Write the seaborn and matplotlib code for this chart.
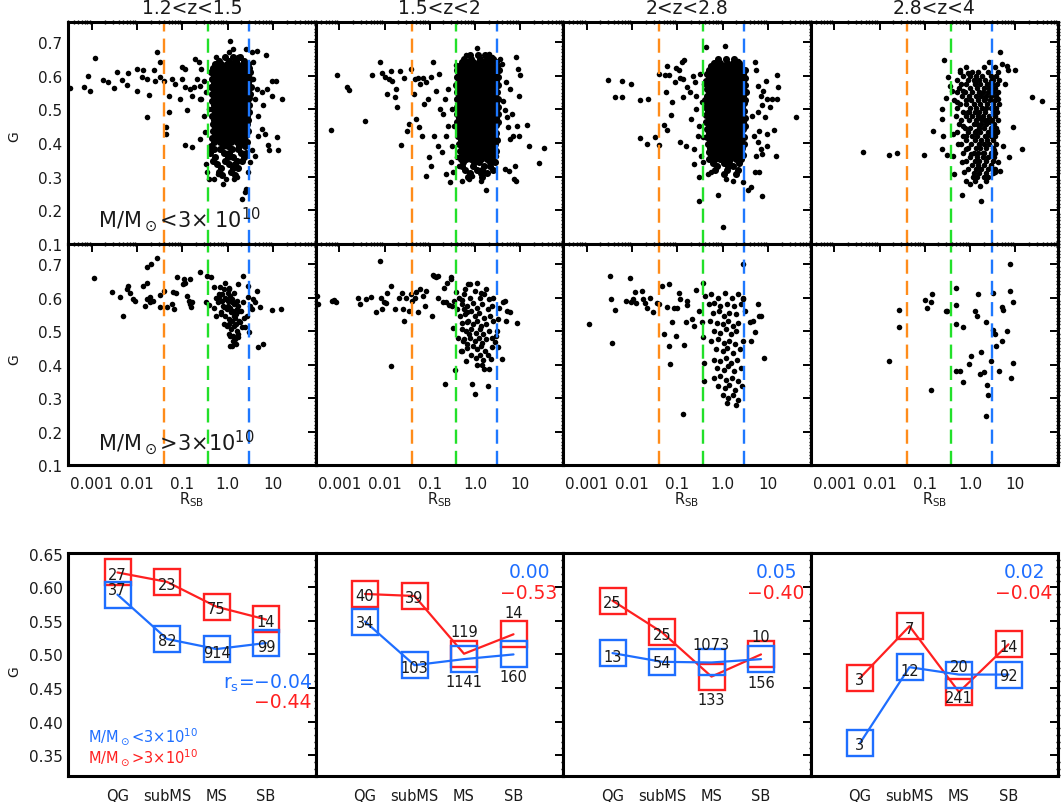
import numpy as np
import pandas as pd
import matplotlib
matplotlib.use("Agg")
import matplotlib.pyplot as plt
import seaborn as sns
from matplotlib.ticker import (FixedLocator, FuncFormatter, MultipleLocator,
                               LogLocator, NullFormatter, FormatStrFormatter)

# ---------------------------------------------------------------- data
zbins = ["1.2<z<1.5", "1.5<z<2", "2<z<2.8", "2.8<z<4"]
thresholds = [0.04, 0.37, 3.0]          # R_SB boundaries QG|subMS|MS|SB
xtick_vals = [1e-3, 1e-2, 1e-1, 1.0, 10.0]
xtick_labels = ["0.001", "0.01", "0.1", "1.0", "10"]
cats = ["QG", "subMS", "MS", "SB"]

# scatter points (log10 R_SB, G) -- low mass (M < 3e10) top row
lo_z1 = [(-3.47,0.563),(-2.92,0.652),(-3.09,0.599),(-3.16,0.566),(-3.03,0.556),(-2.74,0.589),(-2.63,0.581),
         (-2.50,0.563),(-2.44,0.611),(-2.33,0.588),(-2.22,0.573),(-2.19,0.607),(-2.00,0.619),(-1.99,0.556),
         (-1.89,0.596),(-1.86,0.616),(-1.78,0.591),(-1.73,0.543),(-1.78,0.477),(-1.63,0.616),(-1.60,0.586),
         (-1.56,0.670),(-1.50,0.596),(-1.49,0.640),(-1.41,0.586),(-1.36,0.447),(-1.35,0.427),(-1.30,0.539),
         (-1.30,0.492),(-1.23,0.591),(-1.16,0.576),(-1.05,0.531),(-1.01,0.626),(-1.01,0.591),(-0.94,0.621),
         (-0.94,0.566),(-0.90,0.497),(-0.83,0.561),(-0.79,0.541),(-0.94,0.393),(-0.79,0.388),(-0.75,0.566),
         (-0.72,0.650),(-0.68,0.591),(-0.64,0.640),(-0.61,0.412),(-0.62,0.531),(-0.61,0.571),(-0.58,0.531),
         (-0.58,0.621),(-0.53,0.586),(-0.53,0.482),(-0.50,0.432),(-0.48,0.551),(-0.47,0.338),(-0.45,0.313),
         (-0.40,0.502),(-0.40,0.293),(-0.36,0.378),(-0.32,0.601),(-0.29,0.293),(-0.25,0.655),(-0.22,0.308),
         (-0.11,0.278),(-0.04,0.293),(0.06,0.705),(0.11,0.680),(0.04,0.670),(0.15,0.293),(0.20,0.298),
         (0.24,0.655),(0.31,0.234),(0.38,0.256),(0.40,0.680),(0.40,0.264),(0.54,0.670),(0.65,0.675),
         (0.57,0.640),(0.54,0.378),(0.57,0.591),(0.61,0.531),(0.65,0.561),(0.68,0.482),(0.76,0.551),
         (0.79,0.512),(0.83,0.427),(0.85,0.662),(0.87,0.561),(0.90,0.393),(0.92,0.378),(0.98,0.586),
         (0.99,0.541),(1.07,0.586),(1.09,0.417),(1.11,0.378),(1.20,0.531),(0.76,0.442),(0.68,0.422),
         (0.61,0.363),(0.50,0.343),(0.46,0.313)]
lo_z1_core = [
    (0.655, [-0.05, 0.12, 0.28]),
    (0.645, [-0.18, 0.02, 0.19, 0.36]),
    (0.634, [-0.28, -0.14, -0.01, 0.09, 0.21, 0.33, 0.44]),
    (0.623, [-0.33, -0.21, -0.09, 0.03, 0.14, 0.25, 0.37, 0.47]),
    (0.612, [-0.36, -0.26, -0.15, -0.04, 0.07, 0.19, 0.30, 0.41, 0.50]),
    (0.601, [-0.31, -0.20, -0.10, 0.01, 0.12, 0.23, 0.34, 0.45]),
    (0.590, [-0.35, -0.24, -0.13, -0.03, 0.08, 0.18, 0.29, 0.40, 0.49]),
    (0.579, [-0.30, -0.19, -0.08, 0.03, 0.14, 0.25, 0.35, 0.46]),
    (0.568, [-0.36, -0.25, -0.14, -0.04, 0.07, 0.20, 0.31, 0.42, 0.51]),
    (0.557, [-0.31, -0.20, -0.10, 0.02, 0.13, 0.24, 0.36, 0.46]),
    (0.546, [-0.34, -0.23, -0.12, -0.01, 0.09, 0.19, 0.30, 0.41, 0.50]),
    (0.535, [-0.29, -0.18, -0.07, 0.04, 0.15, 0.26, 0.37, 0.47]),
    (0.524, [-0.35, -0.24, -0.13, -0.02, 0.08, 0.21, 0.32, 0.43]),
    (0.513, [-0.30, -0.19, -0.09, 0.03, 0.14, 0.25, 0.36, 0.48]),
    (0.502, [-0.33, -0.22, -0.11, 0.00, 0.10, 0.20, 0.31, 0.42]),
    (0.491, [-0.28, -0.17, -0.06, 0.05, 0.16, 0.27, 0.38, 0.47]),
    (0.480, [-0.34, -0.23, -0.12, -0.01, 0.09, 0.21, 0.33, 0.43]),
    (0.469, [-0.30, -0.18, -0.07, 0.04, 0.15, 0.26, 0.37, 0.46]),
    (0.458, [-0.33, -0.22, -0.11, 0.00, 0.11, 0.22, 0.32, 0.42]),
    (0.447, [-0.28, -0.16, -0.05, 0.06, 0.17, 0.28, 0.39]),
    (0.436, [-0.32, -0.21, -0.10, 0.01, 0.12, 0.23, 0.34, 0.45]),
    (0.425, [-0.27, -0.15, -0.04, 0.07, 0.18, 0.30, 0.40]),
    (0.414, [-0.34, -0.22, -0.10, 0.02, 0.13, 0.24, 0.36]),
    (0.403, [-0.29, -0.17, -0.05, 0.08, 0.20, 0.31, 0.43]),
    (0.392, [-0.36, -0.11, 0.01, 0.26, 0.38]),
    (0.381, [-0.30, -0.16, 0.09, 0.22]),
    (0.370, [-0.38, -0.09, 0.04, 0.29, 0.41]),
    (0.359, [-0.27, 0.00, 0.12, 0.36]),
    (0.348, [-0.33, -0.05, 0.20, 0.32]),
    (0.337, [-0.24, 0.03, 0.16]),
    (0.326, [-0.15, 0.12, 0.24]),
    (0.315, [-0.20, 0.07]),
    (0.304, [-0.12, 0.17]),
]

lo_z2 = [(-3.19,0.440),(-3.05,0.601),(-2.83,0.566),(-2.78,0.559),(-2.43,0.467),(-2.27,0.603),(-2.10,0.640),
         (-2.05,0.609),(-1.99,0.596),(-1.94,0.546),(-1.91,0.591),(-1.86,0.613),(-1.83,0.586),(-1.77,0.536),
         (-1.75,0.561),(-1.72,0.507),(-1.66,0.613),(-1.64,0.394),(-1.58,0.593),(-1.50,0.437),(-1.47,0.457),
         (-1.42,0.619),(-1.35,0.546),(-1.33,0.591),(-1.31,0.473),(-1.27,0.593),(-1.24,0.447),(-1.22,0.576),
         (-1.18,0.422),(-1.15,0.593),(-1.13,0.516),(-1.09,0.303),(-1.08,0.581),(-1.05,0.531),(-1.02,0.358),
         (-0.98,0.333),(-0.97,0.596),(-0.93,0.642),(-0.91,0.422),(-0.87,0.556),(-0.83,0.392),(-0.80,0.606),
         (-0.78,0.502),(-0.74,0.373),(-0.71,0.487),(-0.67,0.531),(-0.65,0.308),(-0.64,0.422),(-0.60,0.561),
         (-0.59,0.452),(-0.56,0.283),(-0.54,0.343),(-0.52,0.502),(-0.50,0.392),(-0.48,0.313),(-0.47,0.452),
         (-0.43,0.631),(-0.41,0.358),(-0.37,0.531),(-0.36,0.333),(-0.32,0.417),(-0.28,0.288),(-0.21,0.662),
         (-0.14,0.293),(-0.06,0.303),(0.05,0.682),(0.12,0.288),(0.25,0.260),(0.31,0.665),(0.38,0.655),
         (0.45,0.363),(0.56,0.650),(0.60,0.635),(0.61,0.526),(0.66,0.323),(0.67,0.497),(0.69,0.581),
         (0.71,0.477),(0.73,0.447),(0.75,0.318),(0.76,0.561),(0.78,0.412),(0.82,0.487),(0.84,0.422),
         (0.86,0.293),(0.91,0.655),(0.93,0.452),(0.95,0.621),(0.97,0.541),(0.88,0.333),(0.91,0.288),
         (0.97,0.422),(1.00,0.601),(1.15,0.454),(1.19,0.392),(1.42,0.341),(1.52,0.386)]
lo_z2_core = [
    (0.662, [-0.12, 0.06, 0.22]),
    (0.651, [-0.25, -0.08, 0.10, 0.27, 0.40]),
    (0.640, [-0.30, -0.17, -0.04, 0.08, 0.20, 0.32, 0.45]),
    (0.629, [-0.36, -0.24, -0.12, 0.00, 0.12, 0.24, 0.36, 0.48]),
    (0.618, [-0.40, -0.29, -0.18, -0.06, 0.05, 0.17, 0.29, 0.41, 0.52]),
    (0.607, [-0.35, -0.23, -0.12, 0.00, 0.11, 0.23, 0.35, 0.46]),
    (0.596, [-0.41, -0.30, -0.18, -0.07, 0.05, 0.16, 0.28, 0.40, 0.51]),
    (0.585, [-0.36, -0.24, -0.13, -0.01, 0.10, 0.22, 0.34, 0.45]),
    (0.574, [-0.42, -0.30, -0.19, -0.07, 0.04, 0.16, 0.28, 0.39, 0.50]),
    (0.563, [-0.37, -0.25, -0.13, -0.02, 0.10, 0.21, 0.33, 0.44]),
    (0.552, [-0.41, -0.30, -0.19, -0.08, 0.04, 0.15, 0.27, 0.38, 0.49]),
    (0.541, [-0.36, -0.24, -0.13, -0.01, 0.10, 0.21, 0.32, 0.44]),
    (0.530, [-0.40, -0.29, -0.18, -0.07, 0.05, 0.16, 0.27, 0.39, 0.50]),
    (0.519, [-0.35, -0.23, -0.12, 0.00, 0.11, 0.22, 0.34, 0.45]),
    (0.508, [-0.41, -0.29, -0.18, -0.06, 0.05, 0.17, 0.28, 0.40, 0.51]),
    (0.497, [-0.36, -0.24, -0.12, -0.01, 0.11, 0.22, 0.34, 0.46]),
    (0.486, [-0.40, -0.29, -0.17, -0.06, 0.06, 0.17, 0.29, 0.40, 0.50]),
    (0.475, [-0.35, -0.23, -0.12, 0.00, 0.12, 0.23, 0.35, 0.45]),
    (0.464, [-0.39, -0.28, -0.17, -0.05, 0.06, 0.18, 0.29, 0.41, 0.51]),
    (0.453, [-0.34, -0.22, -0.11, 0.01, 0.12, 0.24, 0.35, 0.46]),
    (0.442, [-0.38, -0.27, -0.16, -0.04, 0.07, 0.19, 0.30, 0.42]),
    (0.431, [-0.33, -0.21, -0.10, 0.02, 0.13, 0.25, 0.36, 0.47]),
    (0.420, [-0.37, -0.26, -0.15, -0.03, 0.08, 0.20, 0.31, 0.43]),
    (0.409, [-0.32, -0.20, -0.09, 0.03, 0.14, 0.26, 0.37, 0.48]),
    (0.398, [-0.36, -0.25, -0.14, -0.02, 0.09, 0.21, 0.32, 0.44]),
    (0.387, [-0.30, -0.19, -0.07, 0.04, 0.16, 0.27, 0.39]),
    (0.376, [-0.34, -0.23, -0.11, 0.00, 0.11, 0.23, 0.35, 0.46]),
    (0.365, [-0.28, -0.16, -0.05, 0.07, 0.18, 0.30, 0.41]),
    (0.354, [-0.32, -0.20, -0.09, 0.03, 0.14, 0.26, 0.38]),
    (0.343, [-0.26, -0.02, 0.09, 0.33, 0.44]),
    (0.332, [-0.30, -0.05, 0.20, 0.32]),
    (0.321, [-0.22, 0.04, 0.16, 0.40]),
    (0.310, [-0.12, 0.14, 0.27]),
    (0.299, [-0.15, 0.16]),
]

lo_z3 = [(-2.52,0.589),(-2.21,0.585),(-2.03,0.576),(-2.38,0.538),(-2.21,0.538),(-1.83,0.527),(-1.64,0.531),
         (-1.82,0.416),(-1.67,0.397),(-1.49,0.417),(-1.40,0.394),(-1.41,0.606),(-1.30,0.454),(-1.23,0.629),
         (-1.27,0.601),(-1.22,0.440),(-1.19,0.601),(-1.25,0.553),(-1.13,0.485),(-1.11,0.523),(-1.05,0.581),
         (-1.02,0.624),(-0.97,0.616),(-0.94,0.593),(-0.90,0.640),(-0.85,0.648),(-0.87,0.591),(-0.94,0.402),
         (-0.87,0.536),(-0.80,0.392),(-0.78,0.566),(-0.70,0.472),(-0.72,0.551),(-0.66,0.599),(-0.63,0.338),
         (-0.61,0.581),(-0.59,0.541),(-0.63,0.382),(-0.58,0.502),(-0.55,0.422),(-0.53,0.298),(-0.52,0.229),
         (-0.53,0.452),(-0.50,0.606),(-0.48,0.363),(-0.46,0.523),(-0.43,0.417),(-0.37,0.687),(-0.41,0.576),
         (-0.44,0.343),(-0.33,0.308),(-0.26,0.313),(-0.11,0.246),(0.01,0.152),(0.06,0.688),(0.07,0.293),
         (0.22,0.288),(0.35,0.645),(0.44,0.283),(0.55,0.262),(0.62,0.268),(0.72,0.642),(0.73,0.616),
         (0.86,0.244),(0.95,0.586),(0.99,0.531),(1.10,0.531),(1.19,0.531),(1.21,0.601),(1.23,0.566),
         (0.79,0.571),(0.84,0.541),(0.88,0.512),(0.89,0.556),(0.94,0.477),(1.04,0.507),(0.81,0.437),
         (0.79,0.402),(0.84,0.382),(0.88,0.368),(0.99,0.427),(1.14,0.440),(1.17,0.363),(0.72,0.313),
         (0.81,0.315),(0.73,0.363),(0.64,0.482),(0.70,0.422),(1.61,0.477),(0.77,0.492),(0.99,0.392)]
lo_z3_core = [
    (0.650, [-0.10, 0.08, 0.25]),
    (0.639, [-0.20, -0.05, 0.10, 0.23, 0.36]),
    (0.628, [-0.26, -0.13, 0.00, 0.12, 0.25, 0.38]),
    (0.617, [-0.31, -0.19, -0.07, 0.05, 0.17, 0.29, 0.41, 0.50]),
    (0.606, [-0.35, -0.24, -0.12, -0.01, 0.11, 0.23, 0.35, 0.46]),
    (0.595, [-0.30, -0.18, -0.07, 0.05, 0.16, 0.28, 0.40, 0.50]),
    (0.584, [-0.36, -0.24, -0.12, -0.01, 0.11, 0.22, 0.34, 0.45]),
    (0.573, [-0.30, -0.19, -0.07, 0.04, 0.16, 0.28, 0.39, 0.50]),
    (0.562, [-0.35, -0.24, -0.12, -0.01, 0.10, 0.22, 0.33, 0.45]),
    (0.551, [-0.29, -0.18, -0.06, 0.05, 0.17, 0.28, 0.40, 0.51]),
    (0.540, [-0.34, -0.23, -0.11, 0.00, 0.11, 0.23, 0.34, 0.46]),
    (0.529, [-0.39, -0.28, -0.17, -0.05, 0.06, 0.18, 0.29, 0.41, 0.50]),
    (0.518, [-0.33, -0.22, -0.10, 0.01, 0.13, 0.24, 0.36, 0.47]),
    (0.507, [-0.38, -0.27, -0.15, -0.04, 0.07, 0.19, 0.30, 0.42]),
    (0.496, [-0.32, -0.21, -0.09, 0.02, 0.14, 0.25, 0.37, 0.48]),
    (0.485, [-0.37, -0.26, -0.14, -0.03, 0.09, 0.20, 0.32, 0.43]),
    (0.474, [-0.31, -0.20, -0.08, 0.03, 0.15, 0.26, 0.38, 0.49]),
    (0.463, [-0.36, -0.25, -0.13, -0.02, 0.10, 0.21, 0.33, 0.44]),
    (0.452, [-0.30, -0.19, -0.07, 0.04, 0.16, 0.27, 0.39, 0.50]),
    (0.441, [-0.35, -0.24, -0.12, -0.01, 0.11, 0.22, 0.34, 0.45]),
    (0.430, [-0.29, -0.17, -0.06, 0.06, 0.17, 0.29, 0.40]),
    (0.419, [-0.34, -0.22, -0.11, 0.01, 0.12, 0.24, 0.35, 0.47]),
    (0.408, [-0.28, -0.16, -0.05, 0.07, 0.18, 0.30, 0.41]),
    (0.397, [-0.33, -0.21, -0.10, 0.02, 0.13, 0.25, 0.36, 0.48]),
    (0.386, [-0.27, -0.15, -0.04, 0.08, 0.19, 0.31, 0.42]),
    (0.375, [-0.31, -0.20, -0.08, 0.03, 0.15, 0.26, 0.38]),
    (0.364, [-0.25, -0.13, -0.02, 0.10, 0.21, 0.33, 0.45]),
    (0.353, [-0.29, -0.17, -0.06, 0.06, 0.17, 0.29, 0.40]),
    (0.342, [-0.22, 0.02, 0.13, 0.37]),
    (0.331, [-0.13, 0.12, 0.24]),
    (0.320, [-0.17, 0.09, 0.33]),
    (0.309, [0.03, 0.30]),
]

lo_z4 = [(-2.36,0.373),(-1.80,0.366),(-1.61,0.371),(-1.01,0.366),(-0.81,0.437),(-0.61,0.500),(-0.63,0.472),
         (-0.58,0.647),(-0.59,0.420),(-0.61,0.381),(-0.54,0.534),(-0.52,0.365),(-0.48,0.596),(-0.44,0.571),
         (-0.41,0.556),(-0.37,0.427),(-0.37,0.363),(-0.35,0.308),(-0.30,0.521),(-0.26,0.397),(-0.22,0.616),
         (-0.19,0.343),(-0.19,0.246),(-0.16,0.452),(-0.15,0.556),(-0.13,0.313),(-0.10,0.421),(-0.08,0.288),
         (-0.08,0.383),(-0.04,0.609),(-0.02,0.492),(0.00,0.278),(0.03,0.368),(0.07,0.298),(0.11,0.581),
         (0.14,0.437),(0.18,0.328),(0.24,0.229),(0.22,0.273),(0.25,0.472),(0.29,0.371),(0.33,0.531),
         (0.36,0.421),(0.39,0.298),(0.42,0.642),(0.44,0.462),(0.46,0.586),(0.47,0.333),(0.53,0.378),
         (0.55,0.313),(0.59,0.437),(0.61,0.343),(0.62,0.531),(0.66,0.672),(0.66,0.318),(0.71,0.635),
         (0.73,0.392),(0.77,0.576),(0.81,0.630),(0.83,0.616),(0.86,0.358),(0.95,0.447),(0.99,0.618),
         (1.14,0.383),(1.37,0.536),(1.58,0.526)]
lo_z4_cluster = [
    (0.625, [-0.10, 0.30, 0.55]),
    (0.612, [-0.22, 0.05, 0.18, 0.40, 0.62]),
    (0.600, [-0.15, 0.00, 0.12, 0.27, 0.45, 0.58]),
    (0.588, [-0.28, -0.05, 0.08, 0.20, 0.33, 0.50, 0.63]),
    (0.576, [-0.20, -0.08, 0.10, 0.22, 0.37, 0.48, 0.60]),
    (0.564, [-0.25, 0.00, 0.15, 0.30, 0.42, 0.55]),
    (0.552, [-0.30, -0.12, 0.05, 0.20, 0.28, 0.40, 0.50, 0.62]),
    (0.540, [-0.18, -0.02, 0.12, 0.25, 0.35, 0.47, 0.58]),
    (0.528, [-0.35, -0.08, 0.02, 0.18, 0.30, 0.43, 0.55]),
    (0.516, [-0.22, -0.10, 0.08, 0.22, 0.38, 0.50, 0.64]),
    (0.504, [-0.28, 0.00, 0.14, 0.27, 0.36, 0.45, 0.57]),
    (0.492, [-0.15, -0.05, 0.10, 0.20, 0.33, 0.50, 0.60]),
    (0.480, [-0.32, -0.10, 0.05, 0.18, 0.28, 0.42, 0.55]),
    (0.468, [-0.20, -0.02, 0.12, 0.30, 0.38, 0.48, 0.62]),
    (0.456, [-0.25, 0.08, 0.16, 0.25, 0.35, 0.52]),
    (0.444, [-0.12, 0.00, 0.20, 0.30, 0.45, 0.58]),
    (0.432, [-0.28, -0.05, 0.10, 0.22, 0.40, 0.50, 0.60]),
    (0.420, [-0.15, 0.05, 0.15, 0.32, 0.45, 0.55]),
    (0.408, [-0.08, 0.10, 0.25, 0.38, 0.50]),
    (0.396, [-0.20, 0.02, 0.20, 0.30, 0.42, 0.58]),
    (0.384, [-0.05, 0.12, 0.22, 0.35, 0.50]),
    (0.372, [-0.15, 0.08, 0.18, 0.30, 0.45, 0.55]),
    (0.360, [0.00, 0.15, 0.28, 0.40, 0.52]),
    (0.348, [-0.10, 0.10, 0.20, 0.35, 0.50]),
    (0.336, [0.05, 0.18, 0.30, 0.45]),
    (0.324, [-0.05, 0.12, 0.25, 0.40, 0.55]),
    (0.312, [0.08, 0.20, 0.35, 0.50]),
    (0.300, [0.15, 0.30]),
    (0.288, [0.10, 0.35]),
]

# high mass (M > 3e10) second row
hi_z1 = [(-2.96,0.657),(-2.55,0.617),(-2.37,0.603),(-2.31,0.546),(-2.22,0.627),(-2.19,0.635),(-2.15,0.615),
         (-2.08,0.596),(-2.04,0.591),(-1.87,0.635),(-1.82,0.575),(-1.78,0.596),(-1.77,0.643),(-1.72,0.586),
         (-1.71,0.601),(-1.65,0.591),(-1.78,0.691),(-1.69,0.700),(-1.56,0.718),(-1.50,0.572),(-1.49,0.607),
         (-1.41,0.620),(-1.33,0.572),(-1.23,0.581),(-1.21,0.617),(-1.19,0.567),(-1.14,0.613),(-1.12,0.660),
         (-0.99,0.640),(-0.97,0.655),(-0.94,0.645),(-0.90,0.606),(-0.86,0.591),(-0.84,0.581),(-0.83,0.655),
         (-0.81,0.572),(-0.79,0.586),(-0.62,0.675),(-0.47,0.586),(-0.46,0.665),(-0.42,0.577),(-0.37,0.660),
         (-0.31,0.631),(-0.25,0.546),(-0.22,0.588),(-0.20,0.601),(-0.16,0.631),(-0.15,0.556),(-0.13,0.611),
         (-0.09,0.521),(-0.08,0.571),(-0.05,0.643),(-0.03,0.596),(-0.02,0.516),(0.00,0.576),(0.02,0.625),
         (0.04,0.491),(0.06,0.456),(0.07,0.556),(0.09,0.586),(0.11,0.486),(0.13,0.546),(0.15,0.615),
         (0.17,0.476),(0.19,0.521),(0.20,0.566),(0.22,0.481),(0.24,0.640),(0.26,0.561),(0.28,0.526),
         (0.31,0.511),(0.34,0.665),(0.35,0.586),(0.39,0.511),(0.42,0.546),(0.44,0.601),(0.46,0.635),
         (0.48,0.498),(0.50,0.576),(0.53,0.567),(0.57,0.596),(0.61,0.586),(0.64,0.620),(0.68,0.451),
         (0.72,0.571),(0.79,0.461),(0.99,0.564),(1.17,0.566),
         (-0.18,0.610),(-0.12,0.590),(-0.06,0.600),(0.00,0.590),(0.05,0.605),(0.10,0.595),(0.14,0.580),
         (0.20,0.590),(-0.10,0.575),(-0.02,0.565),(0.06,0.570),(0.12,0.560),(0.18,0.550),(0.24,0.575),
         (-0.15,0.550),(-0.05,0.545),(0.03,0.535),(0.09,0.530),(0.16,0.540),(0.02,0.520),(0.08,0.505),
         (0.14,0.515),(0.20,0.500),(0.05,0.485),(0.12,0.470),(0.18,0.460),(0.22,0.490),(0.10,0.455),
         (-0.08,0.625),(0.04,0.630),(0.00,0.615),(0.30,0.560),(0.36,0.540),(0.26,0.530),(-0.25,0.600),
         (-0.30,0.570)]

hi_z2 = [(-3.48,0.605),(-3.46,0.581),(-3.16,0.591),(-3.11,0.594),(-3.06,0.586),(-2.58,0.600),(-2.53,0.581),
         (-2.41,0.596),(-2.30,0.603),(-2.18,0.556),(-2.10,0.709),(-2.08,0.600),(-2.06,0.566),(-2.01,0.588),
         (-1.96,0.584),(-1.94,0.615),(-1.86,0.635),(-1.86,0.397),(-1.77,0.566),(-1.68,0.600),(-1.62,0.613),
         (-1.59,0.566),(-1.57,0.531),(-1.53,0.600),(-1.47,0.561),(-1.42,0.610),(-1.39,0.591),(-1.33,0.600),
         (-1.30,0.617),(-1.25,0.556),(-1.22,0.625),(-1.15,0.605),(-1.11,0.576),(-1.09,0.620),(-0.96,0.544),
         (-0.93,0.667),(-0.91,0.664),(-0.87,0.660),(-0.83,0.663),(-0.83,0.600),(-0.71,0.588),(-0.69,0.630),
         (-0.66,0.342),(-0.65,0.586),(-0.61,0.645),(-0.58,0.578),(-0.54,0.655),(-0.54,0.661),(-0.52,0.574),
         (-0.49,0.508),(-0.47,0.591),(-0.44,0.384),(-0.43,0.617),(-0.39,0.566),(-0.37,0.478),(-0.34,0.546),
         (-0.32,0.441),(-0.30,0.594),(-0.28,0.506),(-0.27,0.471),(-0.25,0.566),(-0.22,0.625),(-0.21,0.411),
         (-0.19,0.526),(-0.17,0.556),(-0.17,0.461),(-0.15,0.640),(-0.14,0.491),(-0.06,0.343),(0.00,0.313),
         (0.16,0.398),(0.20,0.387),(0.31,0.387),(0.29,0.335),(0.60,0.418),(0.51,0.451),(0.61,0.588),
         (0.66,0.591),(0.71,0.561),(0.76,0.558),(0.69,0.531),(0.93,0.524),(0.53,0.568),(0.51,0.536),
         (0.49,0.501),(0.47,0.486),(0.44,0.466),(0.38,0.451),(0.34,0.416),(0.23,0.625),(0.05,0.645),
         (-0.12,0.640),(0.14,0.615),
         (-0.35,0.600),(-0.25,0.610),(-0.12,0.600),(0.00,0.620),(0.10,0.600),(0.20,0.610),(0.30,0.595),
         (0.40,0.600),(-0.30,0.580),(-0.18,0.575),(-0.05,0.585),(0.05,0.570),(0.15,0.580),(0.28,0.565),
         (0.38,0.575),(-0.22,0.550),(-0.10,0.560),(0.00,0.545),(0.08,0.555),(0.20,0.540),(0.33,0.545),
         (-0.28,0.525),(-0.15,0.530),(-0.05,0.520),(0.05,0.530),(0.12,0.515),(0.25,0.520),(0.40,0.530),
         (-0.20,0.500),(-0.08,0.505),(0.02,0.495),(0.10,0.505),(0.18,0.490),(0.30,0.500),(-0.25,0.475),
         (-0.12,0.480),(0.00,0.470),(0.08,0.480),(0.15,0.465),(0.25,0.475),(0.38,0.480),(-0.18,0.450),
         (-0.05,0.455),(0.05,0.445),(0.12,0.455),(0.22,0.440),(-0.10,0.430),(0.02,0.420),(0.10,0.430),
         (0.18,0.415),(0.28,0.430),(-0.30,0.440),(0.05,0.400)]

hi_z3 = [(-2.94,0.521),(-2.49,0.665),(-2.47,0.595),(-2.45,0.464),(-2.37,0.564),(-2.14,0.590),(-2.04,0.657),
         (-2.03,0.588),(-1.97,0.595),(-1.93,0.618),(-1.91,0.585),(-1.78,0.620),(-1.75,0.595),(-1.71,0.585),
         (-1.68,0.568),(-1.61,0.600),(-1.53,0.556),(-1.44,0.585),(-1.41,0.581),(-1.34,0.635),(-1.29,0.491),
         (-1.22,0.571),(-1.19,0.454),(-1.18,0.640),(-1.16,0.401),(-1.12,0.526),(-1.07,0.568),(-1.02,0.486),
         (-1.00,0.568),(-0.97,0.613),(-0.94,0.597),(-0.87,0.252),(-0.86,0.458),(-0.81,0.528),(-0.78,0.590),
         (-0.78,0.578),(-0.68,0.536),(-0.63,0.514),(-0.59,0.623),(-0.53,0.561),(-0.46,0.526),(-0.44,0.481),
         (-0.43,0.645),(-0.39,0.605),(-0.41,0.404),(-0.41,0.352),(0.44,0.700),(0.60,0.526),(0.66,0.531),
         (0.77,0.581),(0.81,0.544),(0.84,0.546),(0.72,0.496),(0.62,0.471),(0.92,0.419),(0.44,0.595),
         (-0.25,0.610),(-0.10,0.600),(0.05,0.615),(0.20,0.600),(0.35,0.610),(0.45,0.600),(-0.30,0.580),
         (-0.18,0.585),(-0.05,0.575),(0.10,0.580),(0.25,0.575),(0.40,0.580),(-0.22,0.555),(-0.08,0.560),
         (0.02,0.545),(0.15,0.555),(0.30,0.550),(0.50,0.560),(-0.28,0.530),(-0.12,0.525),(0.00,0.520),
         (0.12,0.530),(0.22,0.515),(0.35,0.525),(-0.20,0.500),(-0.05,0.495),(0.08,0.505),(0.18,0.490),
         (0.30,0.500),(-0.25,0.470),(-0.10,0.475),(0.02,0.465),(0.15,0.470),(0.28,0.460),(0.45,0.470),
         (-0.15,0.445),(0.00,0.440),(0.10,0.450),(0.22,0.435),(0.38,0.445),(-0.20,0.415),(-0.05,0.410),
         (0.08,0.420),(0.18,0.405),(0.32,0.415),(-0.12,0.390),(0.02,0.385),(0.12,0.395),(0.25,0.380),
         (0.40,0.390),(-0.18,0.360),(-0.05,0.365),(0.08,0.355),(0.20,0.360),(0.35,0.350),(-0.10,0.335),
         (0.05,0.330),(0.15,0.340),(0.28,0.325),(0.42,0.335),(0.00,0.310),(0.12,0.300),(0.22,0.310),
         (0.35,0.295),(0.10,0.285),(0.30,0.280)]

hi_z4 = [(-1.79,0.411),(-1.58,0.564),(-1.58,0.513),(-1.00,0.593),(-0.96,0.569),(-0.86,0.586),(-0.85,0.611),
         (-0.86,0.324),(-0.53,0.561),(-0.50,0.560),(-0.32,0.521),(-0.32,0.628),(-0.32,0.578),(-0.32,0.380),
         (-0.22,0.380),(-0.16,0.347),(-0.15,0.511),(-0.03,0.402),(0.02,0.425),(0.11,0.561),(0.16,0.546),
         (0.18,0.611),(0.22,0.372),(0.25,0.438),(0.31,0.377),(0.36,0.528),(0.38,0.339),(0.39,0.308),
         (0.35,0.245),(0.46,0.412),(0.50,0.504),(0.51,0.613),(0.55,0.491),(0.57,0.456),(0.64,0.380),
         (0.70,0.571),(0.72,0.564),(0.70,0.471),(0.82,0.501),(0.88,0.620),(0.90,0.359),(0.94,0.588),
         (0.95,0.406),(0.88,0.700)]

# bottom row: median G per class, numbers of galaxies, Spearman r_s
G_low = [[0.589, 0.523, 0.508, 0.517],
         [0.549, 0.484, 0.493, 0.500],
         [0.502, 0.489, 0.488, 0.493],
         [0.368, 0.481, 0.470, 0.470]]
G_high = [[0.622, 0.608, 0.571, 0.552],
          [0.590, 0.587, 0.501, 0.530],
          [0.580, 0.533, 0.467, 0.500],
          [0.465, 0.542, 0.444, 0.515]]
N_low = [[37, 82, 914, 99], [34, 103, 1141, 160], [13, 54, 1073, 156], [3, 12, 20, 92]]
N_high = [[27, 23, 75, 14], [40, 39, 119, 14], [25, 25, 133, 10], [3, 7, 241, 14]]
rs_low = [-0.04, 0.00, 0.05, 0.02]
rs_high = [-0.44, -0.53, -0.40, -0.04]

# label vertical offsets (pixels) of the numbers relative to the boxes
dy_low = [[5, -2, -3, -3], [-1, -2, -22, -22], [-3, -1, 18, -23], [-1, -3, 8, -1]]
dy_high = [[-2, -3, -2, -2], [-2, -2, 22, 22], [-2, -2, -23, 18], [-2, -2, -5, -2]]

# dense cores: (sparse points, dense core rows); z4 cluster is not dense
top_low = [(lo_z1, lo_z1_core), (lo_z2, lo_z2_core), (lo_z3, lo_z3_core), (lo_z4 , None)]
top_low_extra = [None, None, None, lo_z4_cluster]
top_high = [hi_z1, hi_z2, hi_z3, hi_z4]

# ---------------------------------------------------------------- style
sns.set_style("white")
plt.rcParams["font.family"] = ["DejaVu Sans"]
plt.rcParams["mathtext.fontset"] = "dejavusans"
TXT = "#1a1a1a"
C_OR, C_GR, C_BL = "#FF8C1A", "#22E02A", "#1E78FF"
C_BLUE, C_RED = "#1E6EFF", "#FF2020"

W, H = 1063, 803
fig = plt.figure(figsize=(W / 100, H / 100), dpi=100)


def px_axes(x0, y0, x1, y1):
    return fig.add_axes([x0 / W, 1 - y1 / H, (x1 - x0) / W, (y1 - y0) / H])


def rows_frame(rows):
    lr, g = [], []
    for gv, xs in rows:
        lr += list(xs)
        g += [gv] * len(xs)
    return pd.DataFrame({"R": 10 ** np.array(lr), "G": g})


def pts_frame(pts):
    return pd.DataFrame({"R": 10 ** np.array([p[0] for p in pts]),
                         "G": [p[1] for p in pts]})


def frame_style(ax):
    for sp in ax.spines.values():
        sp.set_linewidth(2.2)
        sp.set_color("black")
        sp.set_zorder(5)
    ax.tick_params(which="major", direction="in", length=6, width=1.4,
                   top=True, right=True, colors="black", labelcolor=TXT)
    ax.tick_params(which="minor", direction="inout", length=3.5, width=1.0,
                   top=True, right=True, colors="black")


xfmt = FuncFormatter(lambda v, p: dict(zip(xtick_vals, xtick_labels)).get(v, ""))

col_x0 = [68, 315.5, 563, 810.5]
col_w = 247.5

for i in range(4):
    x0 = col_x0[i]
    x1 = x0 + col_w
    for r, (ya, yb) in enumerate([(23, 245), (245, 466)]):
        ax = px_axes(x0, ya, x1, yb)
        ax.set_xscale("log")
        if r == 0:
            sparse, core = top_low[i]
            sns.scatterplot(data=pts_frame(sparse), x="R", y="G", ax=ax, color="black",
                            s=16, linewidth=0, zorder=2)
            if core is not None:
                # densely packed region: dots merge into a solid blob
                sns.scatterplot(data=rows_frame(core), x="R", y="G", ax=ax, color="black",
                                s=26, linewidth=0, zorder=2)
            if top_low_extra[i] is not None:
                sns.scatterplot(data=rows_frame(top_low_extra[i]), x="R", y="G", ax=ax,
                                color="black", s=16, linewidth=0, zorder=2)
        else:
            sns.scatterplot(data=pts_frame(top_high[i]), x="R", y="G", ax=ax, color="black",
                            s=16, linewidth=0, zorder=2)
        for v, c in zip(thresholds, [C_OR, C_GR, C_BL]):
            ax.axvline(v, color=c, lw=1.7, dashes=(6, 3), zorder=3)
        ax.set_xlim(3.0e-4, 87)
        ax.set_ylim(0.1, 0.76)
        ax.set_xlabel("")
        ax.set_ylabel("")
        ax.xaxis.set_major_locator(FixedLocator(xtick_vals))
        ax.xaxis.set_minor_locator(LogLocator(base=10, subs=np.arange(2, 10)))
        ax.xaxis.set_minor_formatter(NullFormatter())
        ax.xaxis.set_major_formatter(xfmt if r == 1 else NullFormatter())
        ax.yaxis.set_major_locator(MultipleLocator(0.1))
        ax.yaxis.set_minor_locator(MultipleLocator(0.01))
        ax.yaxis.set_major_formatter(FormatStrFormatter("%.1f") if i == 0 else NullFormatter())
        frame_style(ax)
        ax.tick_params(axis="x", which="major", labelsize=11, pad=8)
        ax.tick_params(axis="y", which="major", labelsize=11, pad=4)
        if i == 0:
            if r == 0:
                ax.text(30 / col_w, (245 - 220) / 222,
                        r"M/M$_\odot$<3$\times$ 10$^{10}$", transform=ax.transAxes,
                        fontsize=15, color=TXT, ha="left", va="center", zorder=6)
            else:
                ax.text(30 / col_w, (466 - 443) / 221,
                        r"M/M$_\odot$>3$\times$10$^{10}$", transform=ax.transAxes,
                        fontsize=15, color=TXT, ha="left", va="center", zorder=6)
        if r == 1:
            fig.text((x0 + col_w / 2) / W, 1 - 500 / H, r"R$_{\rm SB}$",
                     ha="center", va="center", fontsize=10.5, color=TXT)
        if r == 0:
            fig.text((x0 + col_w / 2) / W, 1 - 9 / H, zbins[i],
                     ha="center", va="center", fontsize=13.5, color=TXT)

    # ---------------- bottom summary panel
    ax = px_axes(x0, 554, x1, 777)
    xs = [1, 2, 3, 4]
    for vals, ns, dys, c in [(G_high[i], N_high[i], dy_high[i], C_RED),
                             (G_low[i], N_low[i], dy_low[i], C_BLUE)]:
        d = pd.DataFrame({"x": xs, "G": vals})
        sns.lineplot(data=d, x="x", y="G", ax=ax, color=c, lw=1.6, sort=False,
                     errorbar=None, marker="s", markersize=19,
                     markerfacecolor="none", markeredgecolor=c, markeredgewidth=1.7)
        for xv, gv, n, dy in zip(xs, vals, ns, dys):
            ax.annotate(str(n), (xv, gv), xytext=(0, dy), textcoords="offset pixels",
                        ha="center", va="center", fontsize=10.5, color=TXT, zorder=6)
    ax.set_xlim(0, 5)
    ax.set_ylim(0.319, 0.651)
    ax.set_xlabel("")
    ax.set_ylabel("")
    ax.set_xticks(xs)
    ax.set_xticklabels(cats)
    ax.yaxis.set_major_locator(MultipleLocator(0.05))
    ax.yaxis.set_minor_locator(MultipleLocator(0.01))
    ax.yaxis.set_major_formatter(FormatStrFormatter("%.2f") if i == 0 else NullFormatter())
    frame_style(ax)
    ax.tick_params(axis="x", which="both", length=0, top=False, labelsize=10.5, pad=9)
    ax.tick_params(axis="y", which="major", labelsize=11, pad=4)

    fmt = lambda v: f"{v:.2f}".replace("-", "\u2212")
    if i == 0:
        ax.annotate(r"r$_{\rm s}$=" + fmt(rs_low[i]), (1, 0), xycoords="axes fraction",
                    xytext=(-3, 94), textcoords="offset pixels", ha="right", va="center",
                    fontsize=13.5, color=C_BLUE)
        ax.annotate(fmt(rs_high[i]), (1, 0), xycoords="axes fraction",
                    xytext=(-4, 74), textcoords="offset pixels", ha="right", va="center",
                    fontsize=13.5, color=C_RED)
        ax.text(20 / col_w, (777 - 737) / 223, r"M/M$_\odot$<3$\times$10$^{10}$",
                transform=ax.transAxes, fontsize=10.5, color=C_BLUE, ha="left", va="center")
        ax.text(20 / col_w, (777 - 758) / 223, r"M/M$_\odot$>3$\times$10$^{10}$",
                transform=ax.transAxes, fontsize=10.5, color=C_RED, ha="left", va="center")
    else:
        ax.annotate(fmt(rs_low[i]), (1, 1), xycoords="axes fraction",
                    xytext=(-13, -19), textcoords="offset pixels", ha="right", va="center",
                    fontsize=13.5, color=C_BLUE)
        ax.annotate(fmt(rs_high[i]), (1, 1), xycoords="axes fraction",
                    xytext=(-6, -40), textcoords="offset pixels", ha="right", va="center",
                    fontsize=13.5, color=C_RED)

# y-axis labels
for yc in [137, 360, 672]:
    fig.text(14 / W, 1 - yc / H, "G", rotation=90, ha="center", va="center",
             fontsize=10, color=TXT)

fig.savefig("out.png", dpi=100)
